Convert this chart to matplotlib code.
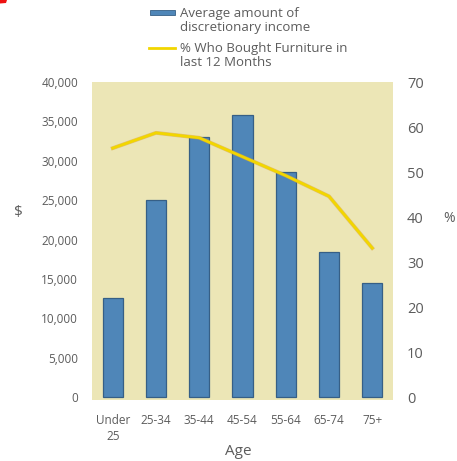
import matplotlib
matplotlib.use("Agg")
import matplotlib.pyplot as plt
import matplotlib.patheffects as pe
from matplotlib.patches import Rectangle, Polygon
from matplotlib.lines import Line2D
from matplotlib.ticker import FuncFormatter

plt.rcParams['font.family'] = ['Open Sans', 'DejaVu Sans']

# Data
age_groups = ["Under\n25", "25-34", "35-44", "45-54", "55-64", "65-74", "75+"]
income = [12600, 25000, 33000, 35800, 28600, 18400, 14500]
pct_bought = [55.3, 58.7, 57.6, 53.4, 49.2, 44.6, 33.1]
left_ticks = [0, 5000, 10000, 15000, 20000, 25000, 30000, 35000, 40000]
right_ticks = [0, 10, 20, 30, 40, 50, 60, 70]

W, H = 457, 461
fig = plt.figure(figsize=(W / 100, H / 100), dpi=100)
fig.patch.set_facecolor("white")

def fx(px):
    return px / W

def fy(py):
    return 1 - py / H

text_col = "#5c5c5c"
bg_col = "#ece6b6"
bar_col = "#4f86b8"
bar_edge = "#365f86"
line_col = "#f2d600"

# Axes: plot region in pixels
left_px, right_px, top_px, bottom_px = 92, 393, 82, 400
ax = fig.add_axes([fx(left_px), fy(bottom_px), fx(right_px - left_px), (bottom_px - top_px) / H])
ax.set_facecolor(bg_col)

x = range(len(age_groups))
ax.bar(x, income, width=0.47, color=bar_col, edgecolor=bar_edge, linewidth=0.9, zorder=2)
ax.set_xlim(-0.48, len(age_groups) - 0.52)
ax.set_ylim(-380, 40000)
ax.set_yticks(left_ticks)
ax.yaxis.set_major_formatter(FuncFormatter(lambda v, p: f"{int(v):,}"))
ax.set_xticks(list(x))
ax.set_xticklabels(age_groups, fontsize=8.5, color=text_col, linespacing=1.35)
ax.tick_params(axis="y", length=0, pad=10, labelsize=8.5, labelcolor=text_col)
ax.tick_params(axis="x", length=0, pad=10)
for s in ax.spines.values():
    s.set_visible(False)

ax2 = ax.twinx()
ax2.plot(list(x), pct_bought, color=line_col, linewidth=2.0, zorder=3,
         path_effects=[pe.Stroke(linewidth=2.8, foreground="#d9a23a", alpha=0.55), pe.Normal()])
ax2.set_ylim(-380 * 70 / 40000, 70)
ax2.set_yticks(right_ticks)
ax2.tick_params(axis="y", length=0, pad=10, labelsize=10.5, labelcolor=text_col)
for s in ax2.spines.values():
    s.set_visible(False)

# Axis titles
fig.text(fx(18), fy(212), "$", fontsize=11, color=text_col, ha="center", va="center")
fig.text(fx(443), fy(218), "%", fontsize=10, color=text_col, ha="left", va="center")
fig.text(fx(238), fy(451), "Age", fontsize=11, color=text_col, ha="center", va="center")

# Legend drawn in figure space
fig.add_artist(Rectangle((fx(150), fy(15.5)), fx(25), 5.5 / H, transform=fig.transFigure,
                         facecolor=bar_col, edgecolor=bar_edge, linewidth=0.6))
fig.text(fx(180), fy(13), "Average amount of", fontsize=9.5, color=text_col, va="center")
fig.text(fx(180), fy(27.5), "discretionary income", fontsize=9.5, color=text_col, va="center")
fig.add_artist(Line2D([fx(149), fx(175)], [fy(48.3), fy(48.3)], transform=fig.transFigure,
                      color=line_col, linewidth=2))
fig.text(fx(180), fy(48.5), "% Who Bought Furniture in", fontsize=9.5, color=text_col, va="center")
fig.text(fx(180), fy(63), "last 12 Months", fontsize=9.5, color=text_col, va="center")

# Small red corner mark
fig.add_artist(Polygon([(fx(0), fy(0)), (fx(7), fy(0)), (fx(6), fy(3)), (fx(0), fy(3.5))],
                       closed=True, transform=fig.transFigure, facecolor="#ee1111", edgecolor="none"))

fig.savefig("out.png", dpi=100, facecolor="white")
